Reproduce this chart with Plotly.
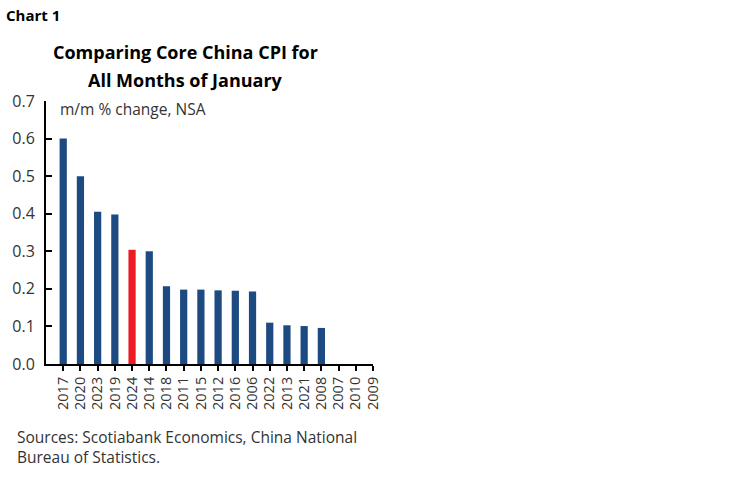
import plotly.graph_objects as go

years = ['2017', '2020', '2023', '2019', '2024', '2014', '2018', '2011', '2015', '2012',
         '2016', '2006', '2022', '2013', '2021', '2008', '2007', '2010', '2009']
core_cpi_mm = [0.60, 0.50, 0.405, 0.398, 0.304, 0.30, 0.207, 0.198, 0.198, 0.196,
               0.195, 0.193, 0.110, 0.103, 0.101, 0.096, 0.0, 0.0, 0.0]

navy = '#1d4a80'
red = '#ed1c24'
bar_colors = [red if y == '2024' else navy for y in years]

font0 = 'Open Sans'

fig = go.Figure()
fig.add_trace(go.Bar(
    x=years, y=core_cpi_mm,
    marker=dict(color=bar_colors, line=dict(width=0)),
    width=0.42,
    showlegend=False
))

fig.update_layout(
    width=748, height=483,
    margin=dict(l=46, r=375, t=101, b=119, autoexpand=False),
    paper_bgcolor='white', plot_bgcolor='white',
    font=dict(family=font0, size=15, color='#333333'),
    xaxis=dict(
        type='category', range=[-1, 18], automargin=False,
        showline=True, linecolor='#000000', linewidth=2,
        ticks='outside', ticklen=5, tickcolor='#000000', tickwidth=1.5,
        tickangle=-90, tickfont=dict(size=14.5, color='#333333'),
        showgrid=False, zeroline=False
    ),
    yaxis=dict(
        range=[0, 0.7], dtick=0.1, tickformat='.1f', automargin=False,
        showline=True, linecolor='#000000', linewidth=2,
        ticks='inside', ticklen=6, tickcolor='#000000', tickwidth=1.5,
        tickfont=dict(size=16, color='#333333'),
        ticklabelstandoff=6,
        showgrid=False, zeroline=False
    ),
    bargap=0.58
)

fig.add_annotation(x=0, y=1, xref='paper', yref='paper', xanchor='left', yanchor='middle',
                   xshift=-42, yshift=86, showarrow=False,
                   text='<b>Chart 1</b>', font=dict(family=font0, size=15, color='#000000'))
fig.add_annotation(x=0.5, y=1, xref='paper', yref='paper', xanchor='center', yanchor='middle',
                   xshift=-24, yshift=49, showarrow=False,
                   text='<b>Comparing Core China CPI for</b>',
                   font=dict(family=font0, size=18, color='#000000'))
fig.add_annotation(x=0.5, y=1, xref='paper', yref='paper', xanchor='center', yanchor='middle',
                   xshift=-24, yshift=21, showarrow=False,
                   text='<b>All Months of January</b>',
                   font=dict(family=font0, size=18, color='#000000'))
fig.add_annotation(x=0, y=1, xref='paper', yref='paper', xanchor='left', yanchor='top',
                   xshift=12, yshift=5, showarrow=False,
                   text='m/m % change, NSA', font=dict(family=font0, size=15.5, color='#333333'))
fig.add_annotation(x=0, y=0, xref='paper', yref='paper', xanchor='left', yanchor='top',
                   xshift=-31, yshift=-60, showarrow=False, align='left',
                   text='Sources: Scotiabank Economics, China National<br>Bureau of Statistics.',
                   font=dict(family=font0, size=15.5, color='#333333'))

# drop the default 8px page margin so the figure sits at the window corner
fig.write_html('out.html', config={'displayModeBar': False},
               post_script="document.body.style.margin='0';")
